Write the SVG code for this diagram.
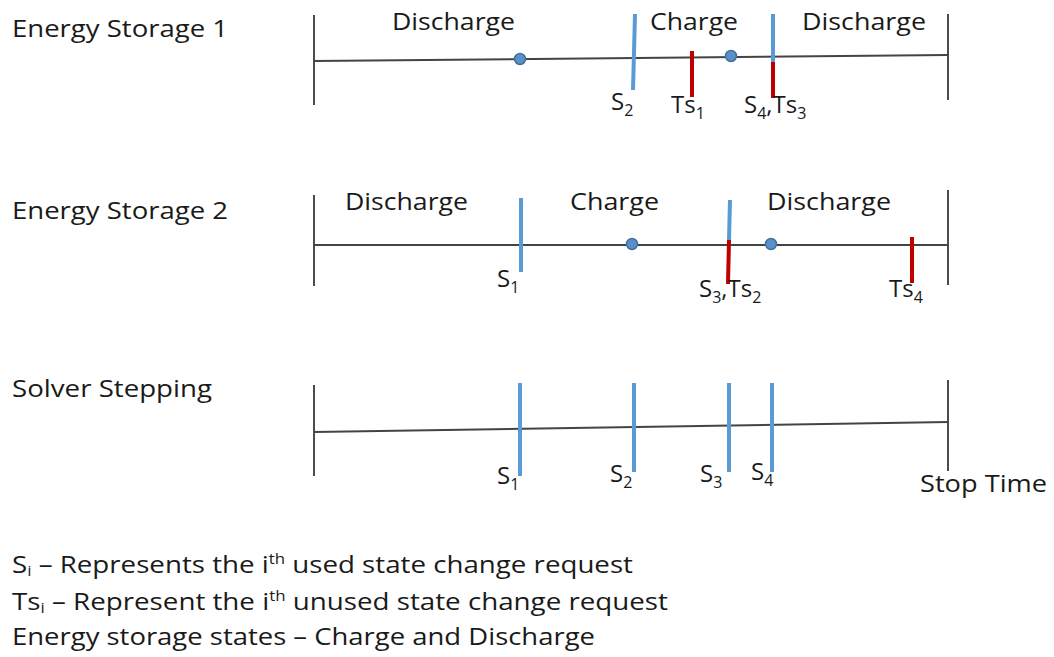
<svg xmlns="http://www.w3.org/2000/svg" width="1054" height="657" viewBox="0 0 1054 657">
<style>
text{font-family:"Open Sans",Lato,sans-serif;font-size:24px;fill:#1a1a1a}
.sub{font-size:16px}
.lg{font-size:23px}
.lsub{font-size:14px}
.axis{stroke:#111;stroke-width:1.5;fill:none}
.tl{stroke:#444;stroke-width:2;fill:none}
.blue{stroke:#5b9bd5;stroke-width:4;fill:none}
.red{stroke:#c00000;stroke-width:4;fill:none}
.dot{fill:#5b8fc9;stroke:#41719c;stroke-width:1.5}
</style>
<rect width="1054" height="657" fill="#fff"/>
<g id="row1">
<text x="12" y="37" textLength="216" lengthAdjust="spacingAndGlyphs">Energy Storage 1</text>
<line class="axis" x1="314" y1="15" x2="314" y2="105"/>
<line class="axis" x1="948" y1="14" x2="948" y2="100"/>
<line class="tl" x1="314" y1="61" x2="948" y2="55"/>
<circle class="dot" cx="520" cy="59" r="5.5"/>
<circle class="dot" cx="731" cy="56" r="5.5"/>
<line class="blue" x1="635" y1="14" x2="633" y2="90"/>
<line class="red" x1="692" y1="51" x2="692" y2="97"/>
<line class="blue" x1="773" y1="14" x2="773" y2="62"/>
<line class="red" x1="773" y1="62" x2="773" y2="98"/>
<text x="392" y="30" textLength="123" lengthAdjust="spacingAndGlyphs">Discharge</text>
<text x="650" y="30" textLength="88" lengthAdjust="spacingAndGlyphs">Charge</text>
<text x="802" y="30" textLength="124" lengthAdjust="spacingAndGlyphs">Discharge</text>
<text x="611" y="110">S<tspan class="sub" dy="6">2</tspan></text>
<text x="671" y="113">Ts<tspan class="sub" dy="6">1</tspan></text>
<text x="744" y="113">S<tspan class="sub" dy="6">4</tspan><tspan dy="-6">,Ts</tspan><tspan class="sub" dy="6">3</tspan></text>
</g>
<g id="row2">
<text x="12" y="219" textLength="216" lengthAdjust="spacingAndGlyphs">Energy Storage 2</text>
<line class="axis" x1="314" y1="195" x2="314" y2="286"/>
<line class="axis" x1="948" y1="190" x2="948" y2="285"/>
<line class="tl" x1="314" y1="245" x2="948" y2="245"/>
<circle class="dot" cx="632" cy="244" r="5.5"/>
<circle class="dot" cx="771" cy="244" r="5.5"/>
<line class="blue" x1="521" y1="198" x2="521" y2="272"/>
<line class="blue" x1="730" y1="200" x2="729" y2="240"/>
<line class="red" x1="729" y1="240" x2="728" y2="284"/>
<line class="red" x1="912" y1="237" x2="912" y2="283"/>
<text x="345" y="210" textLength="123" lengthAdjust="spacingAndGlyphs">Discharge</text>
<text x="570" y="210" textLength="89" lengthAdjust="spacingAndGlyphs">Charge</text>
<text x="767" y="210" textLength="124" lengthAdjust="spacingAndGlyphs">Discharge</text>
<text x="497" y="287">S<tspan class="sub" dy="6">1</tspan></text>
<text x="699" y="297">S<tspan class="sub" dy="6">3</tspan><tspan dy="-6">,Ts</tspan><tspan class="sub" dy="6">2</tspan></text>
<text x="889" y="297">Ts<tspan class="sub" dy="6">4</tspan></text>
</g>
<g id="row3">
<text x="12" y="397" textLength="200" lengthAdjust="spacingAndGlyphs">Solver Stepping</text>
<line class="axis" x1="314" y1="385" x2="314" y2="476"/>
<line class="axis" x1="948" y1="380" x2="948" y2="471"/>
<line class="tl" x1="314" y1="432" x2="948" y2="422"/>
<line class="blue" x1="520" y1="383" x2="520" y2="476"/>
<line class="blue" x1="634" y1="383" x2="634" y2="472"/>
<line class="blue" x1="729" y1="383" x2="729" y2="472"/>
<line class="blue" x1="772" y1="383" x2="772" y2="472"/>
<text x="497" y="484">S<tspan class="sub" dy="6">1</tspan></text>
<text x="610" y="482">S<tspan class="sub" dy="6">2</tspan></text>
<text x="700" y="482">S<tspan class="sub" dy="6">3</tspan></text>
<text x="751" y="480">S<tspan class="sub" dy="6">4</tspan></text>
<text x="920" y="492" textLength="127" lengthAdjust="spacingAndGlyphs">Stop Time</text>
</g>
<g id="legend">
<text class="lg" x="12" y="573" textLength="621" lengthAdjust="spacingAndGlyphs">S<tspan class="lsub" dy="3">i</tspan><tspan dy="-3"> – Represents the i</tspan><tspan class="lsub" dy="-9">th</tspan><tspan dy="9"> used state change request</tspan></text>
<text class="lg" x="12" y="610" textLength="656" lengthAdjust="spacingAndGlyphs">Ts<tspan class="lsub" dy="3">i</tspan><tspan dy="-3"> – Represent the i</tspan><tspan class="lsub" dy="-9">th</tspan><tspan dy="9"> unused state change request</tspan></text>
<text class="lg" x="12" y="645" textLength="583" lengthAdjust="spacingAndGlyphs">Energy storage states – Charge and Discharge</text>
</g>
</svg>
